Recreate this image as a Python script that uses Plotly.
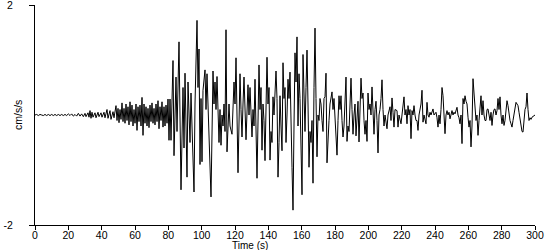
import plotly.graph_objects as go

# Acceleration trace (time in s, acceleration in cm/s/s)
quiet_phase = [
    [0, 0], [1, 0.01], [2, -0.01], [3, 0.01], [4, 0], [5, -0.01], [6, 0.01], [7, -0.01],
    [8, 0.01], [9, -0.01], [10, 0.01], [11, -0.01], [12, 0.01], [13, -0.01], [14, 0.01],
    [15, -0.01], [16, 0.01], [17, -0.01], [18, 0.01], [19, -0.01], [20, 0.02], [21, -0.01],
    [22, 0.02], [23, -0.02], [24, 0.01], [25, -0.02], [26, 0.03], [27, -0.02], [28, 0.02],
    [29, -0.03],
]

early_phase = [
    [30, 0.03], [30.6, -0.03], [31.8, 0.04], [32.4, -0.04], [33, 0.08], [33.6, -0.06],
    [34.2, 0.05], [34.8, -0.04], [36, 0.04], [36.6, -0.05], [37.8, 0.05], [38.4, -0.03],
    [39.6, 0.04], [40.2, -0.04], [41.4, 0.05], [42, -0.05], [43.2, 0.1], [43.8, -0.06],
    [45, 0.08], [45.6, -0.08], [46.8, 0.06], [47.4, -0.05], [48.6, 0.17], [49.2, -0.1],
    [49.8, 0.12], [50.4, -0.14], [51.0, 0.1], [51.6, -0.08], [52.2, 0.22], [52.8, -0.12],
    [53.4, 0.12], [54.0, -0.15], [54.6, 0.2], [55.2, -0.1], [55.8, 0.15], [56.4, -0.18],
    [57.0, 0.24], [57.6, -0.12], [58.2, 0.18], [58.8, -0.2], [59.4, 0.1], [60.0, -0.15],
    [60.6, 0.2], [61.2, -0.28], [61.8, 0.15], [62.4, -0.12], [63.0, 0.18], [63.6, -0.2],
    [64.2, 0.32], [64.8, -0.37], [65.4, 0.2], [66.0, -0.15], [66.6, 0.15], [67.2, -0.2],
    [67.8, 0.12], [68.4, -0.23], [69.0, 0.18], [69.6, -0.12], [70.2, 0.22], [70.8, -0.15],
    [71.4, 0.12], [72.0, -0.18], [72.6, 0.2], [73.2, -0.12], [73.8, 0.26], [74.4, -0.25],
    [75.0, 0.15], [75.6, -0.1], [76.2, 0.24], [76.8, -0.22], [77.4, 0.15], [78.0, -0.2],
    [78.6, 0.18], [79.2, -0.15], [79.8, 0.29], [80.4, -0.46],
]

strong_phase = [
    [81.0, 0.29], [81.6, -0.46], [82.8, 0.99], [83.4, -0.74], [84.6, 0.69], [85.2, -0.3],
    [86.4, 1.33], [87.6, -1.36], [88.8, 0.5], [89.4, -0.6], [90.0, 0.76], [91.2, -1.13],
    [91.8, 0.6], [93.0, -0.5], [93.6, 0.4], [95.4, -1.4], [96.0, 0.2], [97.2, 1.72],
    [97.8, 0.5], [98.4, 1.2], [99.0, -0.9], [99.6, 0.3], [100.2, -0.85], [100.8, 0.45],
    [102.0, 0.82], [102.6, 0.1], [103.2, 0.75], [104.4, -0.3], [105.6, -1.49], [106.8, 0.8],
    [107.4, 0.2], [108.0, 0.6], [108.6, 0.1], [109.2, 0.7], [109.8, 0.0], [110.4, -0.5],
    [111.0, 0.1], [111.6, -0.55], [112.2, 0.0], [112.8, -0.2], [113.4, 0.2], [114.0, -0.3],
    [114.6, 1.55], [115.2, -0.67], [116.4, 0.2], [117.0, -0.2], [118.2, -0.35], [118.8, 0.3],
    [119.4, 0.6], [120.0, 0.2], [120.6, 1.04], [121.8, -1.05], [123.0, 0.75], [123.6, 0.1],
    [124.2, -0.4], [124.8, 0.2], [125.4, 0.69], [126.6, -0.45], [127.2, 0.2], [127.8, 0.55],
    [128.4, 0.0], [129.0, 0.5], [130.2, -0.4], [130.8, 0.1], [131.4, -0.2], [132.0, 0.65],
    [133.2, -1.15], [134.4, 0.91], [135.0, 0.1], [135.6, 0.5], [136.2, -0.64], [136.8, 0.2],
    [137.4, -0.1], [138.0, -0.83], [139.2, 1.05], [139.8, 0.2], [140.4, 0.5], [141.0, -0.82],
    [141.6, -0.3], [142.2, -0.5], [142.8, 0.33], [143.4, 0.0], [144.0, 0.4], [144.6, 0.8],
    [145.2, 0.3], [145.8, -1.13], [146.4, -0.5], [147.0, 0.35], [147.6, -0.2], [148.2, -0.65],
    [148.8, 0.95], [149.4, 0.3], [150.0, 0.5], [150.6, -0.5], [151.2, 0.0], [151.8, 0.65],
    [152.4, 0.3], [153.0, 0.78], [154.2, -0.95], [154.8, -1.73], [155.4, -0.2], [156.0, 1.13],
    [156.6, 0.6], [157.2, 1.42], [157.8, -0.2], [158.4, 0.75], [159.0, 0.3], [160.2, -1.45],
    [160.8, 1.1], [161.4, 0.2], [162.0, -0.3], [162.6, 0.5], [163.2, 1.18], [163.8, 0.2],
    [164.4, -0.95], [165.0, -0.3], [165.6, -0.5], [166.2, -0.1], [166.8, -1.24], [167.4, 0.5],
    [168.0, 1.58], [168.6, 0.3], [169.2, -0.76], [169.8, 0.0], [170.4, -0.1], [171.0, 0.3],
    [171.6, 0.2], [172.2, -0.1], [172.8, -0.3], [173.4, 0.3], [174.0, 0.33], [174.6, 0.76],
    [175.2, -0.87],
]

coda_phase = [
    [176.4, -0.1], [177.0, 0.2], [178.2, 0.42], [178.8, 0.1], [179.4, 0.3], [180.0, -0.1],
    [180.6, -0.38], [181.2, -0.73], [181.8, -0.1], [182.4, 0.35], [183.0, 0.1], [183.6, 0.35],
    [184.2, -0.1], [184.8, -0.4], [185.4, -0.2], [186.0, 0.3], [186.6, 0.69], [187.2, -0.48],
    [187.8, -0.2], [188.4, -0.3], [189.0, 0.2], [189.6, 0.67], [190.2, 0.1], [190.8, -0.35],
    [191.4, 0.0], [192.0, 0.2], [192.6, -0.38], [193.2, 0.0], [193.8, 0.25], [194.4, -0.49],
    [195.0, 0.1], [195.6, 0.67], [196.2, 0.3], [196.8, 0.4], [197.4, -0.1], [198.0, -0.35],
    [198.6, -0.1], [199.2, -0.48], [199.8, 0.4], [200.4, 0.1], [201.0, 0.2], [201.6, 0.0],
    [202.2, 0.51], [202.8, 0.0], [203.4, -0.35], [204.0, 0.1], [204.6, 0.25], [205.2, -0.1],
    [205.8, -0.69], [206.4, 0.0], [207.0, 0.1], [207.6, 0.3], [208.2, 0.64], [208.8, 0.1],
    [209.4, -0.2], [210.0, 0.0], [210.6, -0.1], [211.2, -0.25], [211.8, 0.0], [212.4, 0.1],
    [213.0, 0.15], [213.6, -0.1], [214.2, 0.31], [214.8, 0.05], [215.4, -0.22], [216.0, 0.1],
    [217.2, 0.08], [217.8, -0.22], [218.4, 0.0], [219.6, -0.16], [220.2, 0.0], [220.8, 0.14],
    [221.4, 0.33], [222.0, 0.0], [222.6, 0.1], [223.2, -0.16], [223.8, 0.17], [224.4, 0.0],
    [225.0, 0.1], [225.6, -0.43], [226.2, 0.08], [226.8, 0.0], [227.4, 0.17], [228.0, 0.0],
    [228.6, -0.1], [229.2, -0.1], [229.8, -0.28], [230.4, 0.0], [231.0, 0.1], [231.6, 0.2],
    [232.2, 0.45], [232.8, -0.13], [233.4, 0.0], [234.0, -0.1], [234.6, -0.16], [235.2, 0.23],
    [235.8, 0.0], [236.4, -0.04], [237.0, 0.05], [237.6, 0.0], [238.2, 0.08], [238.8, 0.11],
    [239.4, 0.0], [240.6, 0.05], [241.2, -0.05], [241.8, -0.22], [242.4, 0.0], [243.0, -0.16],
    [243.6, 0.1], [244.2, 0.5], [244.8, 0.35], [245.4, 0.0], [246.0, -0.34], [246.6, 0.0],
    [247.2, 0.08], [247.8, 0.0], [248.4, 0.05], [249.0, -0.07], [249.6, 0.0], [250.2, 0.08],
    [250.8, 0.0], [251.4, 0.05], [252.0, 0.02], [252.6, 0.1], [253.2, 0.14], [253.8, 0.0],
    [254.4, -0.05], [255.0, -0.16], [255.6, 0.0], [256.2, -0.52], [256.8, 0.3], [257.4, 0.2],
    [258.0, 0.35], [258.6, 0.25], [259.2, 0.2], [259.8, -0.04], [260.4, -0.22], [261.0, -0.1],
    [261.6, -0.58], [262.2, -0.2], [262.8, 0.66], [263.4, 0.4], [264.0, 0.1], [264.6, -0.1],
    [265.2, 0.0], [265.8, -0.37], [266.4, -0.1], [267.0, 0.2], [267.6, 0.35], [268.2, 0.0],
    [268.8, 0.26], [269.4, 0.0], [270.0, -0.1], [270.6, -0.1], [271.2, 0.1], [271.8, 0.11],
    [272.4, 0.0], [273.0, -0.1], [273.6, 0.05], [274.2, -0.19], [274.8, 0.0], [275.4, 0.1],
    [276.0, 0.11], [276.6, 0.0], [277.2, 0.08], [277.8, 0.3], [278.4, 0.1], [279.0, 0.33],
    [279.6, 0.0], [280.2, -0.16], [280.8, 0.0], [281.4, -0.19], [282.0, -0.1], [282.6, 0.05],
    [283.2, 0.26], [283.8, 0.17], [284.4, 0.0], [285.0, -0.1], [285.6, -0.16], [286.2, -0.22],
    [286.8, -0.1], [287.4, 0.0], [288.0, 0.1], [288.6, 0.23], [289.2, 0.2], [289.8, 0.17],
    [290.4, 0.05], [291.0, -0.1], [291.6, -0.2], [292.2, -0.3], [292.8, -0.31], [293.4, -0.1],
    [294.0, 0.1], [294.6, 0.15], [295.2, 0.4], [295.8, 0.1], [296.4, -0.1], [297.0, -0.05],
    [297.6, -0.08], [298.2, -0.04], [298.8, -0.02], [299.4, 0.0], [300.0, 0.0],
]

x_ticks = [0, 20, 40, 60, 80, 100, 120, 140, 160, 180, 200, 220, 240, 260, 280, 300]
y_ticks = [-2, 2]
x_label = "Time (s)"
y_label = "cm/s/s"

points = quiet_phase + early_phase + strong_phase + coda_phase
time_s = [p[0] for p in points]
accel = [p[1] for p in points]

FONT = "Liberation Sans, Arial, sans-serif"
FS = 10.5

fig = go.Figure()
fig.add_trace(go.Scatter(
    x=time_s, y=accel, mode="lines",
    line=dict(color="black", width=1),
    hoverinfo="skip", showlegend=False,
))

fig.update_layout(
    width=550, height=250,
    margin=dict(l=35, r=15, t=5, b=25, autoexpand=False),
    paper_bgcolor="white", plot_bgcolor="white",
    font=dict(family=FONT, size=FS, color="black"),
    xaxis=dict(
        range=[0, 300], tickvals=x_ticks, ticktext=[str(v) for v in x_ticks],
        ticks="", ticklen=0,
        minor=dict(tickvals=x_ticks, ticks="outside", ticklen=4,
                   tickcolor="black", tickwidth=1, showgrid=False),
        showline=True, linecolor="black", linewidth=1,
        showgrid=False, zeroline=False, ticklabelstandoff=0,
        ticklabeloverflow="allow", automargin=False,
        tickfont=dict(family=FONT, size=FS, color="black"),
    ),
    yaxis=dict(
        range=[-2, 2], tickvals=y_ticks, ticktext=[str(v) for v in y_ticks],
        ticks="outside", ticklen=5, tickcolor="black", tickwidth=1,
        showline=True, linecolor="black", linewidth=1,
        showgrid=False, zeroline=False, ticklabelstandoff=14,
        ticklabeloverflow="allow", automargin=False,
        tickfont=dict(family=FONT, size=FS, color="black"),
    ),
    annotations=[
        dict(text=x_label, xref="paper", yref="paper", x=0.43, y=0,
             yshift=-20.5, xanchor="center", yanchor="middle", showarrow=False,
             font=dict(family=FONT, size=10, color="black")),
        dict(text=y_label, xref="paper", yref="paper", x=-0.034, y=0.5,
             xanchor="center", yanchor="middle", textangle=-90, showarrow=False,
             font=dict(family=FONT, size=FS, color="black")),
    ],
)

fig.write_html("out.html")
